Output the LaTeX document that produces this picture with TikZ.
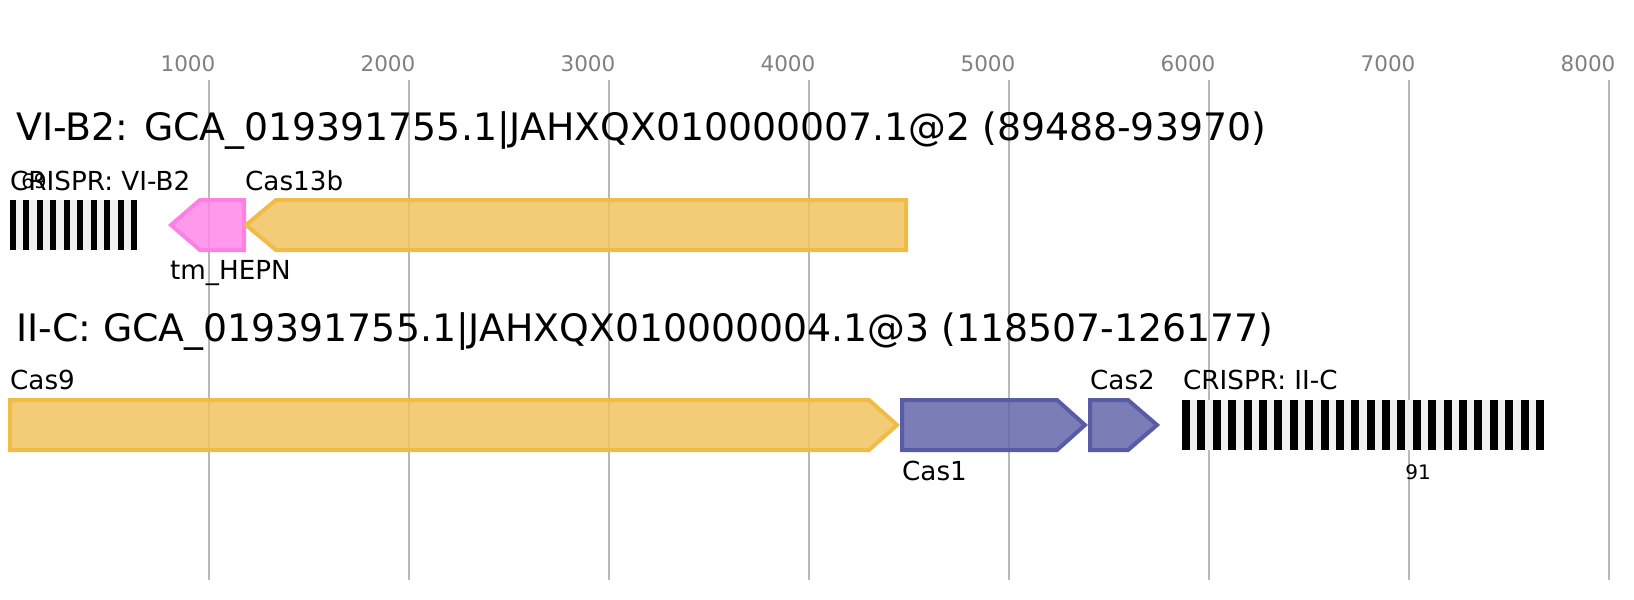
\documentclass[tikz,border=0pt]{standalone}
\usepackage{fontspec}
\setmainfont{DejaVu Sans}
\definecolor{gridgray}{RGB}{185,185,185}
\definecolor{tickgray}{RGB}{128,128,128}
\definecolor{goldfill}{RGB}{240,195,94}
\definecolor{golddraw}{RGB}{240,187,70}
\definecolor{pinkfill}{RGB}{255,135,233}
\definecolor{pinkdraw}{RGB}{255,128,228}
\definecolor{bluefill}{RGB}{100,102,170}
\definecolor{bluedraw}{RGB}{88,92,166}
\definecolor{crisprgray}{RGB}{240,240,240}

\begin{document}
\begin{tikzpicture}[x=1pt, y=-1pt,
  gridline/.style={draw=gridgray, line width=2},
  ticklabel/.style={text=tickgray, font=\fontsize{21.5}{23}\selectfont, anchor=base, inner sep=0},
  title/.style={font=\fontsize{37.8}{40}\selectfont, anchor=base west, inner sep=0},
  genelabel/.style={font=\fontsize{26.2}{28}\selectfont, anchor=base west, inner sep=0},
  countlabel/.style={font=\fontsize{20}{22}\selectfont, anchor=base, inner sep=0},
  gene/.style={line width=4, line join=miter, fill opacity=0.85},
  goldgene/.style={gene, fill=goldfill, draw=golddraw},
  pinkgene/.style={gene, fill=pinkfill, draw=pinkdraw},
  bluegene/.style={gene, fill=bluefill, draw=bluedraw}]
\useasboundingbox (0,0) rectangle (1634,600);
% axis %
\foreach \k in {1,...,8} {
  \draw[gridline] ({9+200*\k},80) -- ({9+200*\k},580);
  \node[ticklabel] (tick\k) at ({-12+200*\k},71) {\k000};
}
% titles %
\node[title] (row1) at (16,140) {VI-B2: GCA\_019391755.1|JAHXQX010000007.1@2 (89488-93970)};
\node[title] (row2) at (16,341) {II-C: GCA\_019391755.1|JAHXQX010000004.1@3 (118507-126177)};
% row 1 %
\fill[crisprgray] (10,200) rectangle (137,250);
\foreach \i in {0,...,9}
  \fill ({10+13.44*\i},200) rectangle ++(6,50);
\draw[pinkgene] (244,200) -- (200,200) -- (171,225) -- (200,250) -- (244,250) -- cycle;
\draw[goldgene] (906,200) -- (276,200) -- (246,225) -- (276,250) -- (906,250) -- cycle;
\node[genelabel] (crispr1) at (10,190) {CRISPR: VI-B2};
\node[countlabel] (count1) at (34,188) {69};
\node[genelabel] (cas13b) at (245,190) {Cas13b};
\node[genelabel] (hepn) at (170,279) {tm\_HEPN};
% row 2 %
\draw[goldgene] (10,400) -- (869,400) -- (897,425) -- (869,450) -- (10,450) -- cycle;
\draw[bluegene] (902,400) -- (1057,400) -- (1085,425) -- (1057,450) -- (902,450) -- cycle;
\draw[bluegene] (1090,400) -- (1128,400) -- (1157,425) -- (1128,450) -- (1090,450) -- cycle;
\fill[crisprgray] (1182,400) rectangle (1544,450);
\foreach \i in {0,...,23}
  \fill ({1182+15.39*\i},400) rectangle ++(8,50);
\node[genelabel] (cas9) at (10,389) {Cas9};
\node[genelabel] (cas1) at (902,480) {Cas1};
\node[genelabel] (cas2) at (1090,389) {Cas2};
\node[genelabel] (crispr2) at (1183,389) {CRISPR: II-C};
\node[countlabel] (count2) at (1418,479) {91};
\end{tikzpicture}
\end{document}
